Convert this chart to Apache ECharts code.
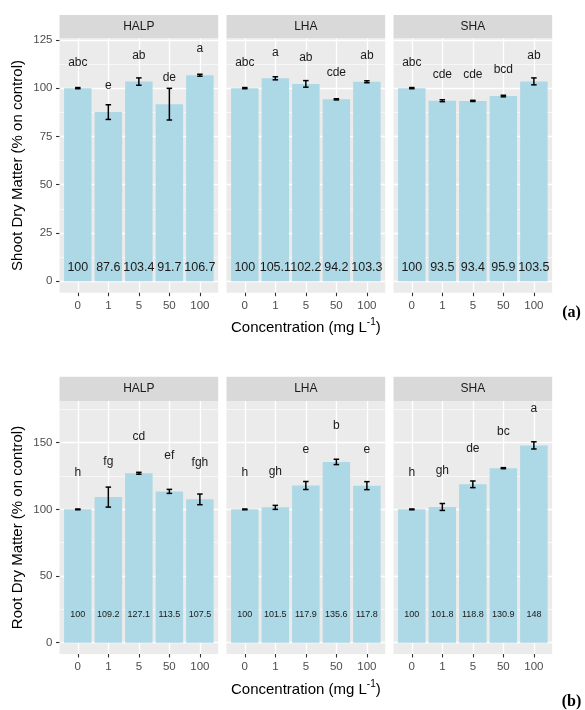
<!DOCTYPE html>
<html>
<head>
<meta charset="utf-8">
<script src="https://cdn.jsdelivr.net/npm/echarts@6/dist/echarts.min.js"></script>
<style>
  html, body { margin: 0; padding: 0; background: #ffffff; }
  #chart { width: 585px; height: 710px; }
</style>
</head>
<body>
<div id="chart"></div>
<script>
// ---- data ----
const categories = ['0', '1', '5', '50', '100'];
const treatments = ['HALP', 'LHA', 'SHA'];

// Shoot dry matter (% on control)
const shootHALP = [100, 87.6, 103.4, 91.7, 106.7];
const shootLHA  = [100, 105.1, 102.2, 94.2, 103.3];
const shootSHA  = [100, 93.5, 93.4, 95.9, 103.5];
const shootErrHALP = [0.3, 3.8, 1.9, 8.2, 0.5];
const shootErrLHA  = [0.3, 0.8, 1.7, 0.3, 0.5];
const shootErrSHA  = [0.3, 0.5, 0.3, 0.4, 1.8];
const shootLetHALP = ['abc', 'e', 'ab', 'de', 'a'];
const shootLetLHA  = ['abc', 'a', 'ab', 'cde', 'ab'];
const shootLetSHA  = ['abc', 'cde', 'cde', 'bcd', 'ab'];
const shootLetPosHALP = [113.4, 101.4, 116.9, 105.4, 120.3];
const shootLetPosLHA  = [113.4, 118.6, 115.7, 108.0, 116.9];
const shootLetPosSHA  = [113.4, 107.1, 107.1, 109.6, 116.9];
const shootTicks = [0, 25, 50, 75, 100, 125];
const shootMinor = [12.5, 37.5, 62.5, 87.5, 112.5];

// Root dry matter (% on control)
const rootHALP = [100, 109.2, 127.1, 113.5, 107.5];
const rootLHA  = [100, 101.5, 117.9, 135.6, 117.8];
const rootSHA  = [100, 101.8, 118.8, 130.9, 148];
const rootErrHALP = [0.3, 7.5, 0.7, 1.5, 4.0];
const rootErrLHA  = [0.3, 1.5, 3.0, 2.0, 3.0];
const rootErrSHA  = [0.3, 2.6, 2.5, 0.4, 2.7];
const rootLetHALP = ['h', 'fg', 'cd', 'ef', 'fgh'];
const rootLetLHA  = ['h', 'gh', 'e', 'b', 'e'];
const rootLetSHA  = ['h', 'gh', 'de', 'bc', 'a'];
const rootLetPosHALP = [127.4, 136.1, 154.4, 140.4, 134.9];
const rootLetPosLHA  = [127.4, 128.6, 144.9, 162.9, 144.9];
const rootLetPosSHA  = [127.4, 129.3, 145.6, 158.2, 175.5];
const rootTicks = [0, 50, 100, 150];
const rootMinor = [25, 75, 125, 175];

// ---- styling / layout ----
const FONT = '"Liberation Sans", Arial, Helvetica, sans-serif';
const BAR_COLOR = '#ADD8E6';
const PANEL_BG = '#EBEBEB';
const STRIP_BG = '#D9D9D9';
const PANEL_X = [59.5, 226.5, 393.5];
const PANEL_W = 158.7;
const BAR_W = 0.9;
const CAP_W = 0.18;

const rows = [
  {
    top: 38.3, height: 254.4, stripTop: 15, yMin: -5.9, yMax: 125.8,
    ticks: shootTicks, minor: shootMinor,
    vals: [shootHALP, shootLHA, shootSHA],
    errs: [shootErrHALP, shootErrLHA, shootErrSHA],
    lets: [shootLetHALP, shootLetLHA, shootLetSHA],
    letPos: [shootLetPosHALP, shootLetPosLHA, shootLetPosSHA],
    valueLabelY: 6.9, valueFont: 12.5,
    yTitle: 'Shoot Dry Matter (% on control)', tag: '(a)', tagY: 313
  },
  {
    top: 401, height: 253, stripTop: 376.7, yMin: -8.5, yMax: 181.3,
    ticks: rootTicks, minor: rootMinor,
    vals: [rootHALP, rootLHA, rootSHA],
    errs: [rootErrHALP, rootErrLHA, rootErrSHA],
    lets: [rootLetHALP, rootLetLHA, rootLetSHA],
    letPos: [rootLetPosHALP, rootLetPosLHA, rootLetPosSHA],
    valueLabelY: 21.3, valueFont: 9,
    yTitle: 'Root Dry Matter (% on control)', tag: '(b)', tagY: 701.5
  }
];

const grid = [], xAxis = [], yAxis = [], series = [], graphic = [];

rows.forEach((row, r) => {
  for (let c = 0; c < 3; c++) {
    const g = r * 3 + c;
    grid.push({
      left: PANEL_X[c], top: row.top, width: PANEL_W, height: row.height,
      show: true, backgroundColor: PANEL_BG, borderWidth: 0, containLabel: false
    });
    xAxis.push({
      type: 'value', gridIndex: g, min: -0.6, max: 4.6, position: 'bottom',
      axisLine: { show: false, onZero: false },
      axisTick: { show: true, customValues: [0, 1, 2, 3, 4], length: 3.5,
                  lineStyle: { color: '#333333', width: 1.1 } },
      axisLabel: { show: true, customValues: [0, 1, 2, 3, 4], margin: 7,
                   formatter: v => categories[v], color: '#4D4D4D',
                   fontSize: 11.5, fontFamily: FONT },
      splitLine: { show: true, lineStyle: { color: '#FFFFFF', width: 1.3 } },
      minorSplitLine: { show: false }
    });
    // major horizontal lines (+ tick labels on the first facet)
    yAxis.push({
      type: 'value', gridIndex: g, min: row.yMin, max: row.yMax, position: 'left',
      axisLine: { show: false, onZero: false },
      axisTick: { show: c === 0, customValues: row.ticks, length: 3.5,
                  lineStyle: { color: '#333333', width: 1.1 } },
      axisLabel: { show: c === 0, customValues: row.ticks, margin: 7,
                   color: '#4D4D4D', fontSize: 11.5, fontFamily: FONT },
      splitLine: { show: true, lineStyle: { color: '#FFFFFF', width: 1.3 } }
    });
    // minor horizontal lines
    yAxis.push({
      type: 'value', gridIndex: g, min: row.yMin, max: row.yMax, position: 'left',
      axisLine: { show: false, onZero: false },
      axisTick: { show: false, customValues: row.minor },
      axisLabel: { show: false, customValues: row.minor },
      splitLine: { show: true, lineStyle: { color: '#FFFFFF', width: 0.6 } }
    });

    const vals = row.vals[c], errs = row.errs[c], lets = row.lets[c], letPos = row.letPos[c];
    const labelY = row.valueLabelY, valueFont = row.valueFont;

    // bars with the value written near the base
    series.push({
      type: 'custom', xAxisIndex: g, yAxisIndex: 2 * g, z: 2, silent: true,
      data: vals.map((v, i) => [i, v]),
      renderItem: (params, api) => {
        const i = api.value(0), v = api.value(1);
        const top = api.coord([i, v]);
        const base = api.coord([i, 0]);
        const lab = api.coord([i, labelY]);
        const w = api.size([BAR_W, 0])[0];
        return {
          type: 'group',
          children: [
            { type: 'rect', shape: { x: top[0] - w / 2, y: top[1], width: w, height: base[1] - top[1] },
              style: { fill: BAR_COLOR } },
            { type: 'text', x: lab[0], y: lab[1],
              style: { text: String(v), align: 'center', verticalAlign: 'middle',
                       fontSize: valueFont, fontFamily: FONT, fill: '#1A1A1A' } }
          ]
        };
      }
    });
    // error bars
    series.push({
      type: 'custom', xAxisIndex: g, yAxisIndex: 2 * g, z: 3, silent: true,
      data: vals.map((v, i) => [i, v, errs[i]]),
      renderItem: (params, api) => {
        const i = api.value(0), v = api.value(1), e = api.value(2);
        const hi = api.coord([i, v + e]);
        const lo = api.coord([i, v - e]);
        const hw = api.size([CAP_W, 0])[0] / 2;
        const ls = { stroke: '#000000', lineWidth: 1.5 };
        return {
          type: 'group',
          children: [
            { type: 'line', shape: { x1: hi[0], y1: hi[1], x2: lo[0], y2: lo[1] }, style: ls },
            { type: 'line', shape: { x1: hi[0] - hw, y1: hi[1], x2: hi[0] + hw, y2: hi[1] }, style: ls },
            { type: 'line', shape: { x1: lo[0] - hw, y1: lo[1], x2: lo[0] + hw, y2: lo[1] }, style: ls }
          ]
        };
      }
    });
    // significance letters
    series.push({
      type: 'custom', xAxisIndex: g, yAxisIndex: 2 * g, z: 3, silent: true,
      data: letPos.map((p, i) => [i, p]),
      renderItem: (params, api) => {
        const i = api.value(0);
        const pt = api.coord([i, api.value(1)]);
        return {
          type: 'text', x: pt[0], y: pt[1],
          style: { text: lets[i], align: 'center', verticalAlign: 'middle',
                   fontSize: 12, fontFamily: FONT, fill: '#1A1A1A' }
        };
      }
    });

    // facet strip
    const stripH = row.top - row.stripTop;
    graphic.push({
      type: 'rect', left: PANEL_X[c], top: row.stripTop, silent: true,
      shape: { width: PANEL_W, height: stripH }, style: { fill: STRIP_BG }
    });
    graphic.push({
      type: 'text', x: PANEL_X[c] + PANEL_W / 2, y: row.stripTop + stripH / 2, silent: true,
      style: { text: treatments[c], align: 'center', verticalAlign: 'middle',
               fontSize: 12, fontFamily: FONT, fill: '#1A1A1A' }
    });
  }

  const panelsMid = (PANEL_X[0] + PANEL_X[2] + PANEL_W) / 2;
  // x-axis title with superscript
  graphic.push({
    type: 'text', x: panelsMid, y: row.top + row.height + 34, silent: true,
    style: {
      text: '{n|Concentration (mg L}{s|-1}{n|)}', align: 'center', verticalAlign: 'middle',
      rich: {
        n: { fontSize: 15, fontFamily: FONT, fill: '#000000', lineHeight: 18, verticalAlign: 'bottom' },
        s: { fontSize: 10, fontFamily: FONT, fill: '#000000', verticalAlign: 'top' }
      }
    }
  });
  // y-axis title
  graphic.push({
    type: 'text', x: 18.3, y: row.top + row.height / 2, rotation: Math.PI / 2, silent: true,
    style: { text: row.yTitle, align: 'center', verticalAlign: 'middle',
             fontSize: 15, fontFamily: FONT, fill: '#000000' }
  });
  // panel tag
  graphic.push({
    type: 'text', x: 571.5, y: row.tagY, silent: true,
    style: { text: row.tag, align: 'center', verticalAlign: 'middle',
             fontSize: 16, fontWeight: 'bold', fontFamily: '"Liberation Serif", "Times New Roman", serif',
             fill: '#000000' }
  });
});

const chart = echarts.init(document.getElementById('chart'), null, { renderer: 'canvas' });
chart.setOption({
  animation: false,
  backgroundColor: '#FFFFFF',
  grid, xAxis, yAxis, series, graphic
});
</script>
</body>
</html>
